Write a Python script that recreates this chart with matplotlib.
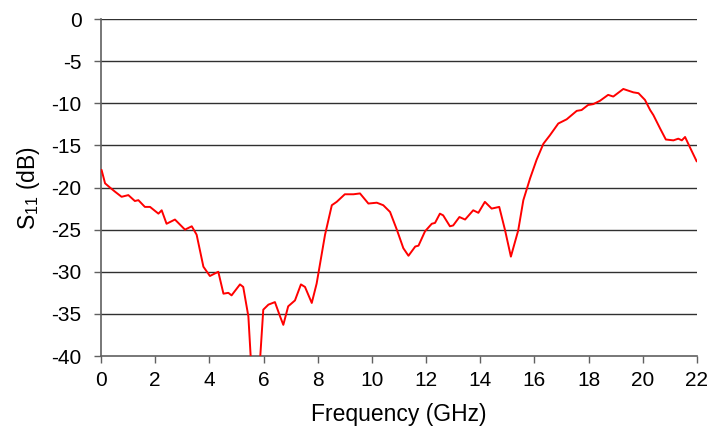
import numpy as np
import matplotlib
matplotlib.use("Agg")
import matplotlib.pyplot as plt

plt.rcParams['font.family'] = ['Liberation Sans', 'DejaVu Sans']
plt.rcParams['mathtext.default'] = 'regular'
plt.rcParams['axes.unicode_minus'] = False

# S11 curve (GHz, dB)
freq = [0.02, 0.15, 0.33, 0.52, 0.76, 1.01, 1.25, 1.38, 1.62, 1.81, 2.12, 2.24, 2.42,
        2.73, 3.1, 3.35, 3.53, 3.78, 4.02, 4.33, 4.52, 4.7, 4.82, 5.13, 5.25, 5.44,
        5.56, 5.84, 5.99, 6.18, 6.42, 6.61, 6.73, 6.91, 7.16, 7.38, 7.53, 7.78, 7.96,
        8.27, 8.52, 8.7, 9.0, 9.32, 9.56, 9.87, 10.18, 10.42, 10.67, 10.92, 11.16,
        11.35, 11.6, 11.72, 11.96, 12.21, 12.33, 12.51, 12.63, 12.88, 13.0, 13.23,
        13.44, 13.74, 13.93, 14.17, 14.42, 14.7, 14.91, 15.13, 15.4, 15.59, 15.84,
        16.08, 16.33, 16.57, 16.88, 17.19, 17.56, 17.74, 17.98, 18.17, 18.42, 18.72,
        18.91, 19.28, 19.65, 19.84, 20.08, 20.27, 20.39, 20.64, 20.85, 21.13, 21.31,
        21.44, 21.56, 21.75, 21.99]
s11 = [-17.9, -19.5, -20.0, -20.5, -21.1, -20.9, -21.6, -21.5, -22.3, -22.3, -23.1,
       -22.7, -24.3, -23.8, -25.0, -24.6, -25.6, -29.4, -30.5, -30.0, -32.6, -32.5,
       -32.8, -31.5, -31.8, -35.3, -42.0, -42.0, -34.5, -33.9, -33.6, -35.3, -36.3,
       -34.1, -33.4, -31.5, -31.8, -33.7, -31.4, -25.6, -22.1, -21.7, -20.8, -20.8,
       -20.7, -21.9, -21.8, -22.1, -22.9, -25.0, -27.2, -28.1, -27.0, -26.9, -25.2,
       -24.3, -24.2, -23.1, -23.3, -24.6, -24.5, -23.5, -23.8, -22.7, -23.0, -21.7,
       -22.5, -22.3, -25.0, -28.2, -25.1, -21.5, -18.9, -16.7, -14.8, -13.8, -12.4,
       -11.9, -10.9, -10.8, -10.2, -10.1, -9.7, -9.0, -9.2, -8.3, -8.7, -8.8, -9.6,
       -10.8, -11.4, -13.0, -14.3, -14.4, -14.2, -14.4, -14.0, -15.3, -16.9]

xticks = list(range(0, 23, 2))
yticks = list(range(-40, 1, 5))

fig = plt.figure(figsize=(7.24, 4.33), dpi=100)
ax = fig.add_axes([0.1395, 0.1778, 0.8232, 0.7782])

for y in yticks[1:]:
    ax.axhline(y, color='#303030', lw=1.0, zorder=1)

ax.plot(freq, s11, color='#ff0000', lw=1.4, zorder=3,
        solid_joinstyle='round', solid_capstyle='round')

ax.set_xlim(0, 22)
ax.set_ylim(-40, 0)
ax.set_xticks(xticks)
ax.set_yticks(yticks)
ax.tick_params(direction='out', length=5, width=1, colors='#606060',
               labelcolor='black', labelsize=15)
ax.tick_params(axis='x', pad=6)
ax.tick_params(axis='y', pad=9)
for side in ['top', 'right']:
    ax.spines[side].set_visible(False)
for side in ['left', 'bottom']:
    ax.spines[side].set_color('#606060')
    ax.spines[side].set_linewidth(1.2)

ax.set_xlabel('Frequency (GHz)', fontsize=16.5, labelpad=9)
ax.set_ylabel('S$_{11}$ (dB)', fontsize=16.5, labelpad=7)

fig.savefig('out.png', dpi=100)
